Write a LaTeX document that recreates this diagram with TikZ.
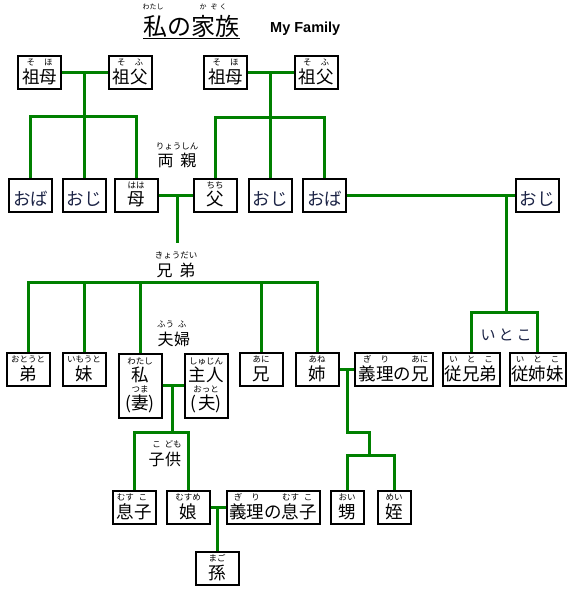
\documentclass[tikz,border=0pt]{standalone}
\usepackage{fontspec}
\newfontfamily\jp{Noto Sans CJK JP}
\newfontfamily\lsans{Liberation Sans}
\definecolor{lg}{RGB}{0,128,0}
\definecolor{tx}{RGB}{28,36,70}
\newdimen\rbraise \rbraise=17.5pt
\newdimen\rbw
\def\rbfs{8.5}
\newcommand\rbf{\jp\fontsize{\rbfs pt}{\rbfs pt}\selectfont\color{black}}
\newcommand\rb[2]{\leavevmode\begingroup\setbox0\hbox{#1}\setbox2\hbox{\rbf #2}%
  \rbw=\wd0\relax
  \ifdim\wd2>\rbw \rbw=\wd2\relax\fi
  \hbox to\rbw{\hss\copy0\hss}\kern-\rbw\raise\rbraise\hbox to\rbw{\hss\copy2\hss}\endgroup}
\tikzset{
  gl/.style={draw=lg, line width=3pt},
  bx/.style={draw=black, line width=2pt, fill=white, inner sep=0pt,
    minimum width=43pt, minimum height=33pt, text height=21.4pt, text depth=0pt,
    font=\jp\fontsize{17.5pt}{17.5pt}\selectfont, text=tx},
  tbox/.style={draw=black, line width=2pt, fill=white, inner sep=0pt,
    minimum width=43pt, minimum height=64pt},
  tx1/.style={inner sep=0pt, anchor=base, font=\jp\fontsize{17.5pt}{17.5pt}\selectfont, text=tx},
  lbl/.style={inner sep=0pt, anchor=base, font=\jp\fontsize{16pt}{16pt}\selectfont, text=tx},
  trb/.style={inner sep=0pt, anchor=base, font=\jp\fontsize{7pt}{7pt}\selectfont},
}
\begin{document}
\begin{tikzpicture}[x=1pt,y=-1pt]
\useasboundingbox (0,0) rectangle (573,596);
\fill[white] (0,0) rectangle (573,596);

% title
\node[inner sep=0pt, anchor=base, font=\jp\fontsize{24pt}{24pt}\selectfont, text=black] (title) at (191.5,35.5) {私の家族};
\node[trb] (titleR1) at (153,10) {わたし};
\node[trb] (titleR2) at (213,10) {か\hspace{4pt}ぞ\hspace{2pt}く};
\draw[line width=1pt] ([yshift=-3pt]title.base west) -- ([yshift=-3pt]title.base east);
\node[inner sep=0pt, anchor=base west, font=\lsans\bfseries\fontsize{14.5pt}{14.5pt}\selectfont] (myfam) at (270,32.5) {My Family};

% boxes row 1
\node[bx] (sobo1) at (39.5,72.5) {\rb{祖}{そ}\rb{母}{ほ}};
\node[bx] (sofu1) at (130,72.5) {\rb{祖}{そ}\rb{父}{ふ}};
\node[bx] (sobo2) at (225.5,72.5) {\rb{祖}{そ}\rb{母}{ほ}};
\node[bx] (sofu2) at (316,72.5) {\rb{祖}{そ}\rb{父}{ふ}};
% row 2
\node[bx] (oba1) at (30.5,195) {おば};
\node[bx] (oji1) at (84,195) {おじ};
\node[bx] (haha) at (136,195) {\rb{母}{はは}};
\node[bx] (chichi) at (215,195) {\rb{父}{ちち}};
\node[bx] (oji2) at (270,195) {おじ};
\node[bx] (oba2) at (324.5,195) {おば};
\node[bx] (oji3) at (537,195) {おじ};
% row 3
\node[bx] (otouto) at (28,369.5) {\rb{弟}{おとうと}};
\node[bx] (imouto) at (84,369.5) {\rb{妹}{いもうと}};
\node[tbox] (watashi) at (140,385.5) {};
\node[tbox] (shujin) at (206,385.5) {};
\node[tx1] (watashiT) at (140,381.7) {\rb{私}{わたし}};
\node[tx1] (watashiB) at (140,409.7) {\rb{(妻)}{つま}};
\node[tx1] (shujinT) at (206,381.7) {\rb{主人}{しゅじん}};
\node[tx1] (shujinB) at (206,409.7) {\rb{(\hspace{2pt}夫)}{おっと}};
\node[bx] (ani) at (261,369.5) {\rb{兄}{あに}};
\node[bx] (ane) at (317,369.5) {\rb{姉}{あね}};
\node[bx, minimum width=78pt] (giriani) at (393.5,369.5) {\rb{義}{ぎ}\rb{理}{り}の\rb{兄}{あに}};
\node[bx, minimum width=57pt] (itoko1) at (471,369.5) {\rb{従}{い}\rb{兄}{と}\rb{弟}{こ}};
\node[bx, minimum width=56pt] (itoko2) at (537.5,369.5) {\rb{従}{い}\rb{姉}{と}\rb{妹}{こ}};
% row 4
\node[bx] (musuko) at (134,507.5) {\rb{息}{むす}\rb{子}{こ}};
\node[bx] (musume) at (188,507.5) {\rb{娘}{むすめ}};
\node[bx, minimum width=93pt] (girimusuko) at (273,507.5) {\rb{義}{ぎ}\rb{理}{り}の\rb{息}{むす}\rb{子}{こ}};
\node[bx, minimum width=33pt] (oi) at (347,507.5) {\rb{甥}{おい}};
\node[bx, minimum width=33pt] (mei) at (394,507.5) {\rb{姪}{めい}};
% row 5
\node[bx] (mago) at (217,568.5) {\rb{孫}{まご}};

% labels
\node[lbl] (ryoshin) at (177,167) {\rb{両\hspace{7pt}親}{りょうしん}};
\node[lbl] (kyodai) at (176,276) {\rb{兄\hspace{7pt}弟}{きょうだい}};
\node[lbl] (fufu) at (173.5,345) {\rb{夫}{ふう}\rb{婦}{ふ}};
\node[lbl] (kodomo) at (165,465) {\rb{子}{こ}\rb{供}{ども}};
\node[lbl, font=\jp\fontsize{15pt}{15pt}\selectfont] (itokoL) at (506,340) {い\hspace{3pt}と\hspace{3pt}こ};

% junction coordinates
\coordinate (m1) at (84,72.5);
\coordinate (h1) at (84,116.5);
\coordinate (m2) at (270,72.5);
\coordinate (h2) at (270,117.5);
\coordinate (p1) at (177,195);
\coordinate (p2) at (177,243);
\coordinate (b1) at (177,282);
\coordinate (r1) at (506,195);
\coordinate (r2) at (506,312);
\coordinate (k0) at (172,385.5);
\coordinate (k1) at (172,432);
\coordinate (q1) at (347,369.5);
\coordinate (q2) at (369,432);
\coordinate (n1) at (369,455);
\coordinate (s1) at (217,507.5);

% connectors
\draw[gl] (sobo1) -- (sofu1);
\draw[gl] (m1) -- (oji1.north);
\draw[gl] (oba1.north) |- (h1) -| (haha.north);
\draw[gl] (sobo2) -- (sofu2);
\draw[gl] (m2) -- (oji2.north);
\draw[gl] (chichi.north) |- (h2) -| (oba2.north);
\draw[gl] (haha) -- (chichi);
\draw[gl] (p1) -- (p2);
\draw[gl] (otouto.north) |- (b1) -| (ane.north);
\draw[gl] (imouto.north) -- (imouto.north |- b1);
\draw[gl] (watashi.north) -- (watashi.north |- b1);
\draw[gl] (ani.north) -- (ani.north |- b1);
\draw[gl] (oba2) -- (oji3);
\draw[gl] (r1) -- (r2);
\draw[gl] (itoko1.north) |- (r2) -| (itoko2.north);
\draw[gl] (watashi) -- (shujin);
\draw[gl] (k0) -- (k1);
\draw[gl] (musuko.north) |- (k1) -| (musume.north);
\draw[gl] (ane) -- (giriani);
\draw[gl] (q1) |- (q2) -- (n1);
\draw[gl] (oi.north) |- (n1) -| (mei.north);
\draw[gl] (musume) -- (girimusuko);
\draw[gl] (s1) -- (mago.north);
\end{tikzpicture}
\end{document}
